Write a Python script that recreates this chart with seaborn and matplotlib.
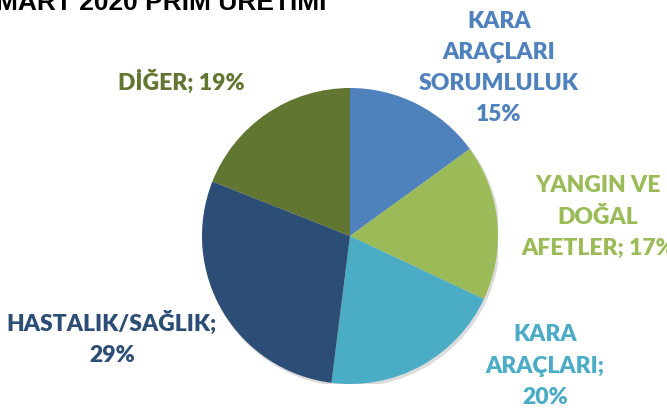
import matplotlib
matplotlib.use('Agg')
import matplotlib.pyplot as plt
import seaborn as sns

# veri
kategoriler = ['KARA\nARAÇLARI\nSORUMLULUK\n15%', 'YANGIN VE\nDOĞAL\nAFETLER; 17%',
               'KARA\nARAÇLARI;\n20%', 'HASTALIK/SAĞLIK;\n29%', 'DİĞER; 19%']
paylar = [15, 17, 20, 29, 19]
renkler = ['#4F81BD', '#9BBB59', '#4BACC6', '#2C4D75', '#617631']
baslik = 'MART 2020 PRİM ÜRETİMİ'

# etiket konumlari (piksel, sol-ust referans)
etiket_yer = [(499, 68), (598, 217), (545, 366), (112, 338), (181, 82)]

sns.set_theme(style='white')
plt.rcParams['font.family'] = ['Lato', 'DejaVu Sans']

W, H = 667, 419
fig = plt.figure(figsize=(W / 100, H / 100), dpi=100)
fig.patch.set_facecolor('white')

cx, cy, r = 350, 236, 148
ax = fig.add_axes([(cx - r) / W, (H - cy - r) / H, 2 * r / W, 2 * r / H])

# hafif golge
golge = plt.Circle((0.012, -0.015), 1.0, color='#dcdcdc', zorder=0)
ax.add_patch(golge)
ax.pie(paylar, colors=renkler, startangle=90, counterclock=False, radius=1,
       wedgeprops=dict(linewidth=0))
ax.set_xlim(-1, 1)
ax.set_ylim(-1, 1)
ax.set_aspect('equal')
ax.axis('off')

for metin, (x, y), renk in zip(kategoriler, etiket_yer, renkler):
    fig.text(x / W, 1 - y / H, metin, color=renk, fontsize=16.5, fontweight='heavy',
             ha='center', va='center', linespacing=1.6, multialignment='center')

fig.text(-4 / W, 1 - 10 / H, baslik, fontsize=19, fontweight='bold', color='black',
         family='Liberation Sans', ha='left', va='baseline')

fig.savefig('out.png', dpi=100)
